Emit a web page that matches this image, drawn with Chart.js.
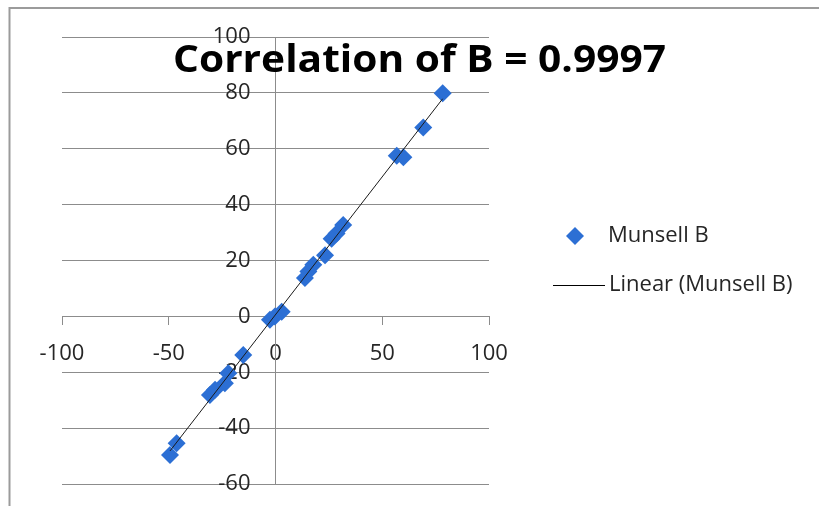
<!DOCTYPE html>
<html>
<head>
<meta charset="utf-8">
<script src="https://cdn.jsdelivr.net/npm/chart.js@4.4.1/dist/chart.umd.min.js"></script>
<style>
  html, body { margin: 0; padding: 0; background: #fff; }
  #wrap { width: 819px; height: 506px; position: relative; }
</style>
</head>
<body>
<div id="wrap"><canvas id="chart"></canvas></div>
<script>
// Munsell B samples (measured vs reference)
const munsellX = [78.3, 69.2, 56.8, 59.9, 31.7, 28.6, 26.3, 23.2, 17.7, 15.4, 13.8,
                  2.9, -0.3, -2.6, -15.1, -22.1, -23.7, -28.3, -30.7, -46.3, -49.4];
const munsellY = [79.9, 67.6, 57.5, 57.0, 32.7, 29.7, 27.8, 21.9, 18.5, 16.1, 13.7,
                  1.7, 0.0, -1.2, -13.8, -20.4, -23.9, -26.3, -28.1, -45.4, -49.6];

const xTicks = [-100, -50, 0, 50, 100];
const yTicks = [-60, -40, -20, 0, 20, 40, 60, 80, 100];

const titleText = 'Correlation of B = 0.9997';
const seriesName = 'Munsell B';
const trendName = 'Linear (Munsell B)';

const BLUE = '#2c6fd4';
const GRID = '#8c8c8c';
const TXT = '#262626';

// linear scale whose labels keep their padding when the axis sits at a value
class CrossLinear extends Chart.LinearScale {
    _computeLabelItems(area) {
        const items = super._computeLabelItems(area);
        if (!this.isHorizontal()) {
            const pad = this.options.ticks.padding;
            items.forEach(it => { it.options.translation[0] -= pad; });
        }
        return items;
    }
}
CrossLinear.id = 'crossLinear';
CrossLinear.defaults = {};
Chart.register(CrossLinear);

// axes crossing inside the plot take no room in the layout
function noRoom(s) {
    if (s.isHorizontal()) s.height = 0; else s.width = 0;
    s.paddingTop = s.paddingBottom = s.paddingLeft = s.paddingRight = 0;
}

// least squares line, drawn across the data range like a spreadsheet trendline
function linearFit(xs, ys) {
    const n = xs.length;
    const mx = xs.reduce((a, b) => a + b, 0) / n;
    const my = ys.reduce((a, b) => a + b, 0) / n;
    let sxy = 0, sxx = 0;
    for (let i = 0; i < n; i++) {
        sxy += (xs[i] - mx) * (ys[i] - my);
        sxx += (xs[i] - mx) * (xs[i] - mx);
    }
    const slope = sxy / sxx;
    return { slope, intercept: my - slope * mx };
}

const fit = linearFit(munsellX, munsellY);
const xMin = Math.min(...munsellX), xMax = Math.max(...munsellX);
const trendPoints = [xMin, xMax].map(x => ({ x, y: fit.slope * x + fit.intercept }));
const points = munsellX.map((x, i) => ({ x, y: munsellY[i] }));

// frame, title and legend drawn on the canvas
const decorations = {
    id: 'decorations',
    beforeDraw(chart) {
        const ctx = chart.ctx;
        ctx.save();
        ctx.fillStyle = '#fff';
        ctx.fillRect(0, 0, chart.width, chart.height);
        ctx.strokeStyle = '#9b9b9b';
        ctx.lineWidth = 2;
        ctx.beginPath();
        ctx.moveTo(9.5, chart.height);
        ctx.lineTo(9.5, 8);
        ctx.lineTo(chart.width, 8);
        ctx.stroke();
        ctx.restore();
    },
    afterDraw(chart) {
        const ctx = chart.ctx;
        ctx.save();
        // title
        ctx.font = 'bold 37px "Open Sans"';
        ctx.fillStyle = '#000';
        ctx.textBaseline = 'alphabetic';
        ctx.textAlign = 'left';
        const w = ctx.measureText(titleText).width;
        ctx.translate(173, 72);
        ctx.scale(493 / w, 1);
        ctx.fillText(titleText, 0, 0);
        ctx.restore();

        // legend
        ctx.save();
        ctx.font = '22px "Open Sans"';
        ctx.textBaseline = 'middle';
        ctx.textAlign = 'left';
        const ds = chart.data.datasets;
        ctx.fillStyle = BLUE;
        ctx.beginPath();
        ctx.moveTo(575, 227); ctx.lineTo(584, 236); ctx.lineTo(575, 245); ctx.lineTo(566, 236);
        ctx.closePath();
        ctx.fill();
        ctx.fillStyle = TXT;
        ctx.fillText(ds[0].label, 608, 236);
        ctx.strokeStyle = '#000';
        ctx.lineWidth = 1;
        ctx.beginPath();
        ctx.moveTo(553, 285.5); ctx.lineTo(605, 285.5);
        ctx.stroke();
        ctx.fillText(ds[1].label, 609, 285);
        ctx.restore();
    }
};

new Chart(document.getElementById('chart'), {
    type: 'scatter',
    data: {
        datasets: [
            {
                label: seriesName,
                data: points,
                pointStyle: 'rectRot',
                pointRadius: 9,
                pointHoverRadius: 9,
                backgroundColor: BLUE,
                borderColor: BLUE,
                borderWidth: 0,
                order: 2
            },
            {
                label: trendName,
                type: 'line',
                data: trendPoints,
                borderColor: '#1a1a1a',
                borderWidth: 1,
                pointRadius: 0,
                fill: false,
                order: 1
            }
        ]
    },
    options: {
        responsive: true,
        maintainAspectRatio: false,
        animation: false,
        layout: { padding: { left: 62, right: 330, top: 37, bottom: 22 } },
        plugins: {
            legend: { display: false },
            title: { display: false },
            tooltip: { enabled: false }
        },
        scales: {
            x: {
                type: 'crossLinear',
                position: { y: 0 },
                min: -100, max: 100,
                afterBuildTicks: s => { s.ticks = xTicks.map(v => ({ value: v })); },
                afterFit: noRoom,
                grid: { drawOnChartArea: false, drawTicks: true, tickLength: 8, color: GRID },
                border: { display: true, color: GRID, width: 1 },
                ticks: { color: TXT, padding: 16, maxRotation: 0, font: { family: 'Open Sans', size: 22 } }
            },
            y: {
                type: 'crossLinear',
                position: { x: 0 },
                min: -60, max: 100,
                afterBuildTicks: s => { s.ticks = yTicks.map(v => ({ value: v })); },
                afterFit: noRoom,
                grid: { drawOnChartArea: true, drawTicks: false, color: GRID },
                border: { display: true, color: GRID, width: 1 },
                ticks: { color: TXT, padding: 25, font: { family: 'Open Sans', size: 22 } }
            }
        }
    },
    plugins: [decorations]
});
</script>
</body>
</html>
